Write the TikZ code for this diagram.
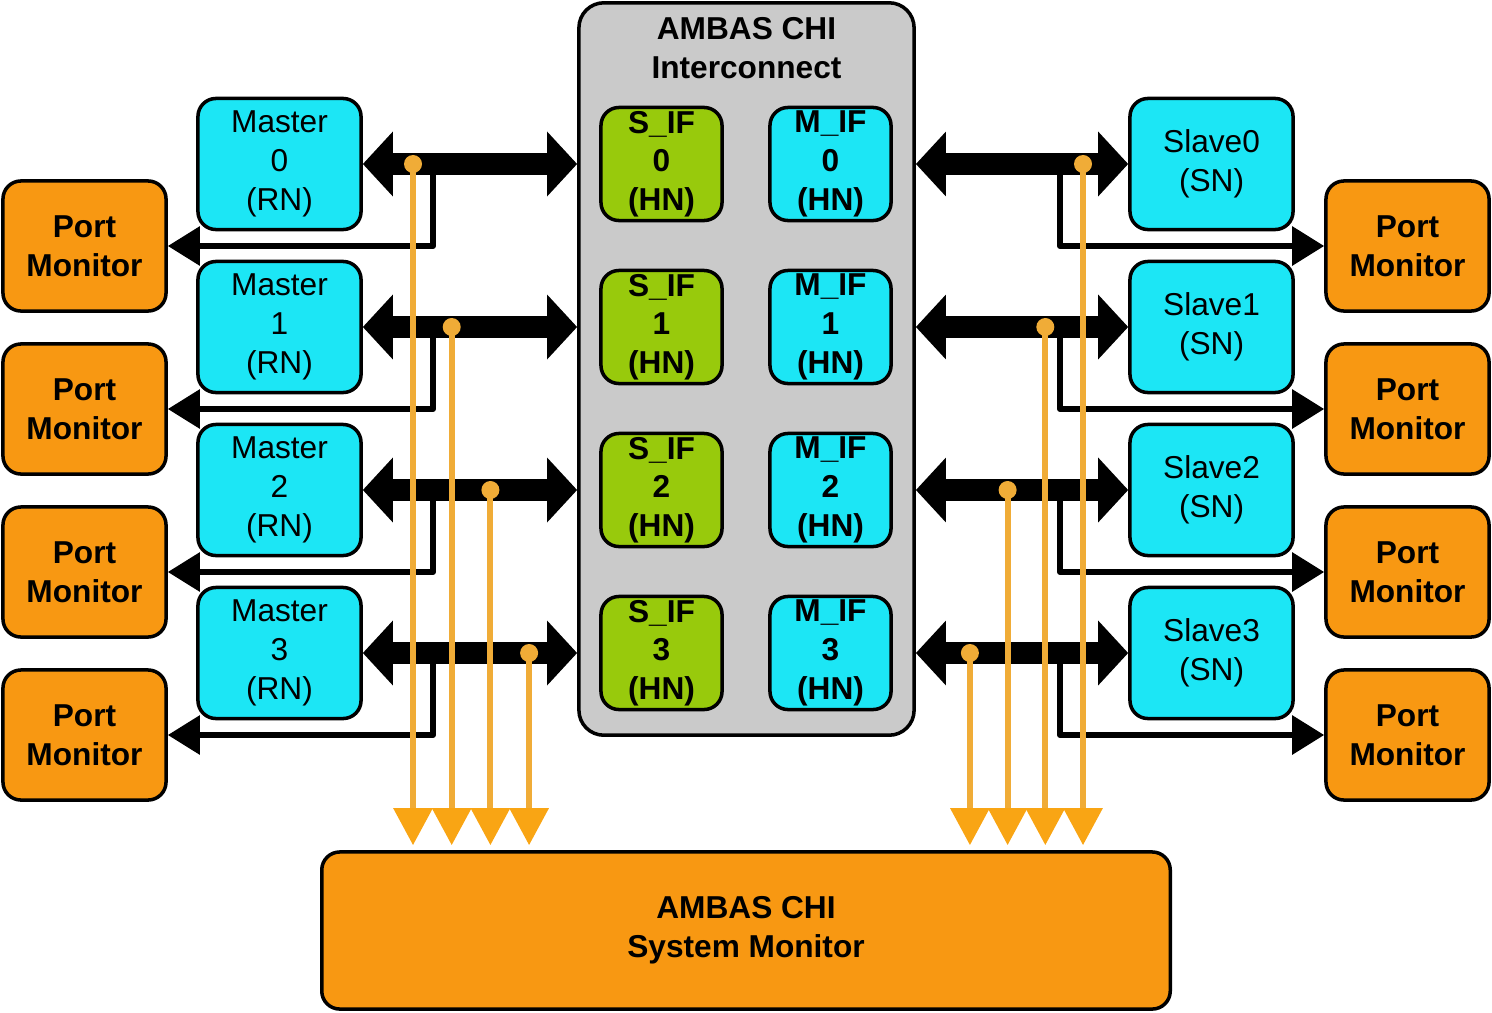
\documentclass[tikz,border=0pt]{standalone}
\usepackage{fontspec}
\setmainfont{Liberation Sans}
\usetikzlibrary{arrows.meta}
\definecolor{pmorange}{RGB}{248,152,18}
\definecolor{probeorange}{RGB}{240,172,55}
\definecolor{tiporange}{RGB}{249,165,20}
\definecolor{cyanbox}{RGB}{28,230,245}
\definecolor{sifgreen}{RGB}{152,202,12}
\definecolor{icgray}{RGB}{202,202,202}
\begin{document}
\begin{tikzpicture}[x=0.01cm,y=-0.01cm,line join=round,font=\fontsize{9}{11}\selectfont]
\tikzset{box/.style={draw,line width=1pt,rounded corners=0.18cm,align=center,inner sep=0pt},
  rnbox/.style={box,fill=cyanbox,minimum width=1.63cm,minimum height=1.31cm},
  pmbox/.style={box,fill=pmorange,minimum width=1.63cm,minimum height=1.3cm,font=\fontsize{9}{11}\selectfont\bfseries},
  hnbox/.style={box,minimum width=1.21cm,minimum height=1.13cm,font=\fontsize{9}{11}\selectfont\bfseries},
  bus/.style={line width=0.22cm,{Triangle[length=0.3cm,width=0.63cm]}-{Triangle[length=0.3cm,width=0.63cm]}},
  tap/.style={line width=0.06cm,-{Triangle[length=0.32cm,width=0.38cm]}},
  probe/.style={draw=probeorange,line width=0.06cm,shorten >=0.05cm,-{Triangle[length=0.37cm,width=0.38cm,color=tiporange]}}}
\useasboundingbox (0,0) rectangle (1492,1012);
\node[box,fill=icgray,minimum width=3.35cm,minimum height=7.32cm,rounded corners=0.25cm] (ic) at (746.5,369) {};
\node[align=center,font=\fontsize{9}{11}\selectfont\bfseries] (ictitle) at (746.5,48) {AMBAS CHI\\Interconnect};
\node[pmbox,minimum width=8.48cm,minimum height=1.57cm] (sm) at (746,930.5) {AMBAS CHI\\System Monitor};
\coordinate (tapl) at (433,0);
\coordinate (tapr) at (1060,0);
\foreach \i in {0,...,3}{
  \pgfmathsetmacro\y{164+163*\i}
  \node[rnbox] (m\i) at (279.5,\y) {Master\\\i\\(RN)};
  \node[hnbox,fill=sifgreen] (sif\i) at (661.5,\y) {S\_IF\\\i\\(HN)};
  \node[hnbox,fill=cyanbox] (mif\i) at (830.5,\y) {M\_IF\\\i\\(HN)};
  \node[rnbox] (s\i) at (1211.5,\y) {Slave\i\\(SN)};
  \node[pmbox] (lp\i) at (84.5,\y+82) {Port\\Monitor};
  \node[pmbox] (rp\i) at (1407.5,\y+82) {Port\\Monitor};
  \draw[bus] (m\i.east) -- (m\i.east -| ic.west);
  \draw[bus] (s\i.west -| ic.east) -- (s\i.west);
  \draw[tap] (tapl |- m\i.east) |- (lp\i.east);
  \draw[tap] (tapr |- s\i.west) |- (rp\i.west);
}
\foreach \i in {0,...,3}{
  \pgfmathsetmacro\y{164+163*\i}
  \coordinate (pl\i) at (413+38.7*\i,\y);
  \coordinate (pr\i) at (1083-37.7*\i,\y);
  \draw[probe] (pl\i) -- (pl\i |- sm.north);
  \draw[probe] (pr\i) -- (pr\i |- sm.north);
  \fill[probeorange] (pl\i) circle[radius=0.09cm] (pr\i) circle[radius=0.09cm];
}
\end{tikzpicture}
\end{document}
